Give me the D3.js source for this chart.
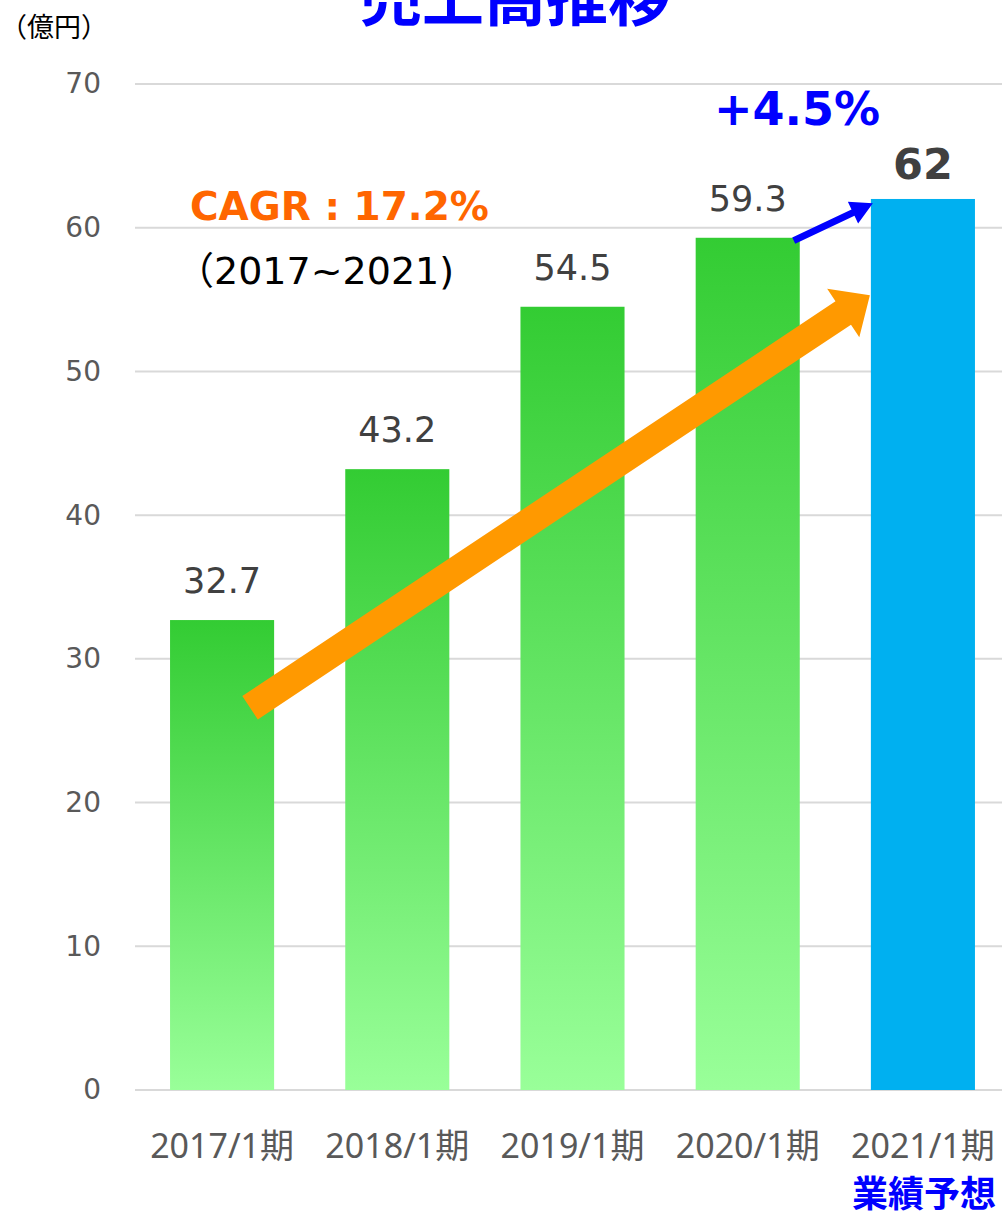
<!DOCTYPE html>
<html>
<head>
<meta charset="utf-8">
<script src="https://cdn.jsdelivr.net/npm/d3@7.9.0/dist/d3.min.js"></script>
<style>
  body { margin: 0; background: #fff; }
  svg { display: block; font-family: "DejaVu Sans", "Noto Sans CJK JP", sans-serif; }
</style>
</head>
<body>
<svg id="chart" width="1002" height="1215"></svg>
<script>
// data
const periods = ['2017/1期', '2018/1期', '2019/1期', '2020/1期', '2021/1期'];
const sales = [32.7, 43.2, 54.5, 59.3, 62];
const forecast = [false, false, false, false, true];
const yTicks = [0, 10, 20, 30, 40, 50, 60, 70];

const svg = d3.select('#chart');

let x = d3.scaleBand().domain(periods).range([135, 1010]).paddingInner(0.406).paddingOuter(0.2);
let y = d3.scaleLinear().domain([0, 70]).range([1090, 84]);

// gradient for actual bars
let defs = svg.append('defs');
let grad = defs.append('linearGradient')
    .attr('id', 'greenGrad')
    .attr('x1', 0).attr('y1', 0).attr('x2', 0).attr('y2', 1);
grad.append('stop').attr('offset', '0%').attr('stop-color', '#33cc33');
grad.append('stop').attr('offset', '100%').attr('stop-color', '#99ff99');

// gridlines
svg.append('g')
    .selectAll('line')
    .data(yTicks)
    .join('line')
    .attr('x1', 135).attr('x2', 1002)
    .attr('y1', d => y(d)).attr('y2', d => y(d))
    .attr('stroke', '#d9d9d9')
    .attr('stroke-width', 2);

// y axis labels
let yAxis = svg.append('g')
    .attr('transform', 'translate(101,0)')
    .call(d3.axisLeft(y).tickValues(yTicks).tickSize(0).tickPadding(0));
yAxis.select('.domain').remove();
yAxis.selectAll('text')
    .attr('fill', '#595959')
    .style('font-size', '28px')
    .style('font-family', '"DejaVu Sans", sans-serif');

// bars
svg.append('g')
    .selectAll('rect')
    .data(periods)
    .join('rect')
    .attr('x', d => x(d))
    .attr('y', (d, i) => y(sales[i]))
    .attr('width', x.bandwidth())
    .attr('height', (d, i) => y(0) - y(sales[i]))
    .attr('fill', (d, i) => forecast[i] ? '#00b0f0' : 'url(#greenGrad)');

// value labels
svg.append('g')
    .selectAll('text')
    .data(periods)
    .join('text')
    .attr('x', d => x(d) + x.bandwidth() / 2)
    .attr('y', (d, i) => y(sales[i]) - (forecast[i] ? 20 : 27))
    .attr('text-anchor', 'middle')
    .attr('fill', '#404040')
    .style('font-size', (d, i) => forecast[i] ? '43px' : '35px')
    .style('font-weight', (d, i) => forecast[i] ? 'bold' : 'normal')
    .text((d, i) => sales[i]);

// x axis labels
let xAxis = svg.append('g')
    .attr('transform', 'translate(0,1130)')
    .call(d3.axisBottom(x).tickSize(0).tickPadding(0));
xAxis.select('.domain').remove();
xAxis.selectAll('text')
    .attr('dy', 0)
    .attr('y', 28)
    .attr('fill', '#595959')
    .style('font-size', '34px')
    .style('font-family', '"Noto Sans", "Noto Sans CJK JP", sans-serif');

svg.append('text')
    .attr('x', 996).attr('y', 1207)
    .attr('text-anchor', 'end')
    .attr('fill', '#0000ff')
    .style('font-size', '36px')
    .style('font-weight', 'bold')
    .style('font-family', '"Noto Sans CJK JP", sans-serif')
    .text('業績予想');

// title (cut off at the top) and unit
svg.append('text')
    .attr('x', 515).attr('y', 21)
    .attr('text-anchor', 'middle')
    .attr('fill', '#0000ff')
    .style('font-size', '62px')
    .style('font-weight', 'bold')
    .style('font-family', '"Noto Sans CJK JP", sans-serif')
    .text('売上高推移');

svg.append('text')
    .attr('x', 0).attr('y', 37)
    .attr('fill', '#000')
    .style('font-size', '27px')
    .style('font-family', '"Noto Sans CJK JP", sans-serif')
    .text('（億円）');

// arrow helper
function arrow(x0, y0, x1, y1, shaft, headW, headL) {
    let dx = x1 - x0, dy = y1 - y0;
    let len = Math.sqrt(dx * dx + dy * dy);
    let ux = dx / len, uy = dy / len;
    let nx = -uy, ny = ux;
    let bx = x1 - ux * headL, by = y1 - uy * headL;
    let pts = [
        [x0 + nx * shaft / 2, y0 + ny * shaft / 2],
        [bx + nx * shaft / 2, by + ny * shaft / 2],
        [bx + nx * headW / 2, by + ny * headW / 2],
        [x1, y1],
        [bx - nx * headW / 2, by - ny * headW / 2],
        [bx - nx * shaft / 2, by - ny * shaft / 2],
        [x0 - nx * shaft / 2, y0 - ny * shaft / 2]
    ];
    return d3.line()(pts) + 'Z';
}

// CAGR arrow (orange)
svg.append('path')
    .attr('d', arrow(x(periods[0]) + 80, y(26.6), x(periods[4]) - 1, y(55.3), 28, 58, 32))
    .attr('fill', '#ff9900');

// growth arrow (blue)
svg.append('path')
    .attr('d', arrow(x(periods[3]) + x.bandwidth() - 6, y(59.1), x(periods[4]) + 2, y(61.7), 7, 24, 22))
    .attr('fill', '#0000ff');

// annotations
svg.append('text')
    .attr('x', 190).attr('y', 220)
    .attr('fill', '#ff6600')
    .style('font-size', '39px')
    .style('font-weight', 'bold')
    .text('CAGR : 17.2%');

svg.append('text')
    .attr('x', 176).attr('y', 284)
    .attr('fill', '#000')
    .style('font-size', '38px')
    .text('（2017~2021)');

svg.append('text')
    .attr('x', 797).attr('y', 125)
    .attr('text-anchor', 'middle')
    .attr('fill', '#0000ff')
    .style('font-size', '46px')
    .style('font-weight', 'bold')
    .text('+4.5%');
</script>
</body>
</html>
